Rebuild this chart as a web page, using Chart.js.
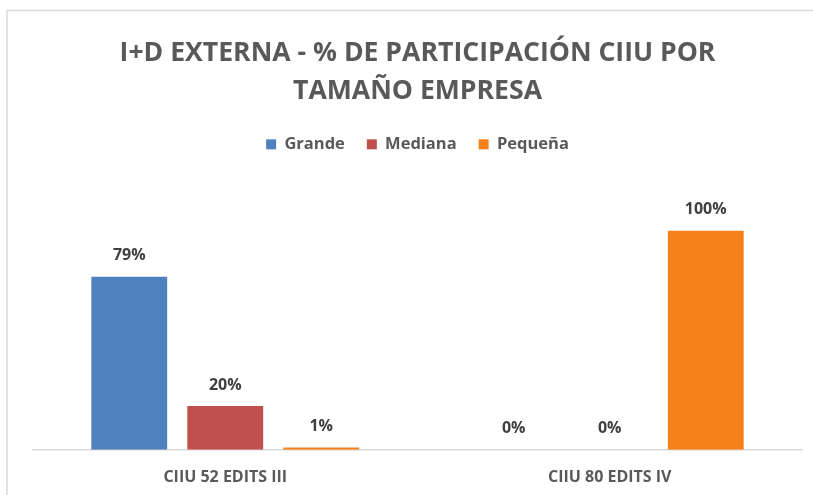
<!DOCTYPE html>
<html>
<head>
<meta charset="utf-8">
<script src="https://cdn.jsdelivr.net/npm/chart.js@4/dist/chart.umd.min.js"></script>
<style>
html,body{margin:0;padding:0;background:#fff;}
#wrap{position:relative;width:813px;height:495px;}
</style>
</head>
<body>
<div id="wrap"><canvas id="c" width="813" height="495"></canvas></div>
<script>
const categories = ["CIIU 52 EDITS III", "CIIU 80 EDITS IV"];
const seriesNames = ["Grande", "Mediana", "Pequeña"];
const grande = [0.79, 0];
const mediana = [0.20, 0];
const pequena = [0.01, 1.00];
const titleLines = ["I+D EXTERNA - % DE PARTICIPACIÓN CIIU POR", "TAMAÑO EMPRESA"];
const colors = ["#4f81bd", "#c0504d", "#f7801a"];

const frame = {
  id: 'frame',
  beforeDraw(chart) {
    const ctx = chart.ctx;
    ctx.save();
    ctx.strokeStyle = '#d9d9d9';
    ctx.lineWidth = 1.5;
    ctx.beginPath();
    ctx.moveTo(7, 600);
    ctx.lineTo(7, 10.5);
    ctx.lineTo(900, 10.5);
    ctx.stroke();
    ctx.restore();
  }
};

const legendMargin = {
  id: 'legendMargin',
  beforeInit(chart) {
    const fit = chart.legend.fit;
    chart.legend.fit = function () {
      fit.bind(chart.legend)();
      this.height += 24.5;
    };
  }
};

const dataLabels = {
  id: 'dataLabels',
  afterDatasetsDraw(chart) {
    const ctx = chart.ctx;
    ctx.save();
    ctx.font = 'bold 16px "Open Sans"';
    ctx.fillStyle = '#404040';
    ctx.textAlign = 'center';
    ctx.textBaseline = 'middle';
    chart.data.datasets.forEach((ds, i) => {
      const meta = chart.getDatasetMeta(i);
      meta.data.forEach((bar, j) => {
        const v = ds.data[j];
        ctx.fillText(Math.round(v * 100) + '%', bar.x, bar.y - 21);
      });
    });
    ctx.restore();
  }
};

new Chart(document.getElementById('c'), {
  type: 'bar',
  data: {
    labels: categories,
    datasets: [
      { label: seriesNames[0], data: grande, backgroundColor: colors[0] },
      { label: seriesNames[1], data: mediana, backgroundColor: colors[1] },
      { label: seriesNames[2], data: pequena, backgroundColor: colors[2] }
    ]
  },
  options: {
    responsive: false,
    animation: false,
    categoryPercentage: 0.749,
    barPercentage: 0.79,
    layout: { padding: { left: 33, right: 11, bottom: -10, top: 0 } },
    plugins: {
      title: {
        display: true,
        text: titleLines,
        color: '#595959',
        font: { family: '"Open Sans"', size: 26.6, weight: 'bold', lineHeight: 1.43 },
        padding: { top: 34, bottom: 4 }
      },
      legend: {
        display: true,
        position: 'top',
        labels: {
          color: '#595959',
          font: { family: '"Open Sans"', size: 16.5, weight: 'bold' },
          boxWidth: 10,
          boxHeight: 10,
          padding: 22
        }
      },
      tooltip: { enabled: false }
    },
    scales: {
      x: {
        grid: { display: false, drawTicks: false },
        border: { display: true, color: '#d9d9d9', width: 1.5 },
        ticks: {
          color: '#595959',
          font: { family: '"Open Sans"', size: 16, weight: 'bold' },
          padding: 18
        }
      },
      y: {
        display: false,
        min: 0,
        max: 1.2
      }
    }
  },
  plugins: [frame, legendMargin, dataLabels]
});
</script>
</body>
</html>
